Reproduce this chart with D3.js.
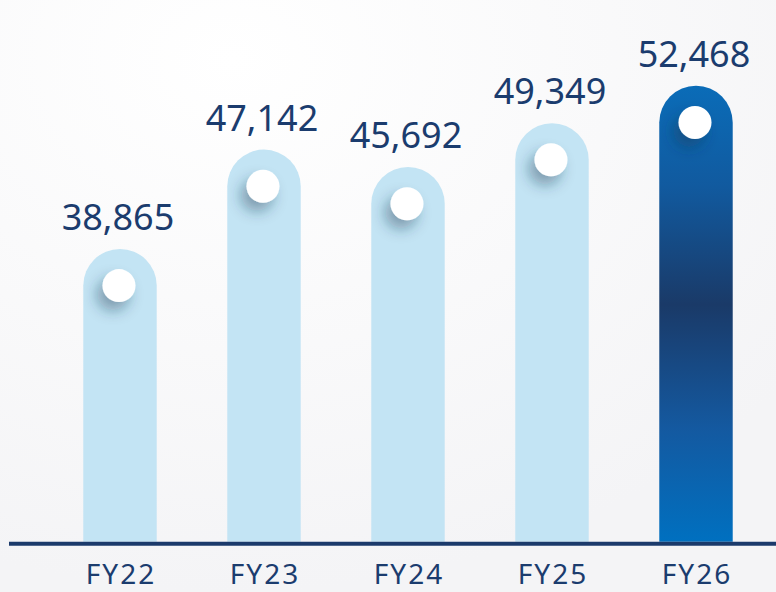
<!DOCTYPE html>
<html>
<head>
<meta charset="utf-8">
<script src="https://cdn.jsdelivr.net/npm/d3@7"></script>
<style>
  html, body { margin:0; padding:0; background:#f8f8fa; }
  svg { display:block; }
</style>
</head>
<body>
<svg id="chart" width="776" height="592"></svg>
<script>
// ---data---
var years = ["FY22", "FY23", "FY24", "FY25", "FY26"]
var values = [38865, 47142, 45692, 49349, 52468]
var highlight = "FY26"

var width = 776, height = 592
var baseY = 541.7
var svg = d3.select("#chart")

var defs = svg.append("defs")

// background wash
var bg = defs.append("radialGradient").attr("id", "bgGrad")
  .attr("cx", "30%").attr("cy", "10%").attr("r", "90%")
bg.append("stop").attr("offset", "0").attr("stop-color", "#ffffff")
bg.append("stop").attr("offset", "1").attr("stop-color", "#f4f4f6")

// dark bar gradient
var dark = defs.append("linearGradient").attr("id", "darkGrad")
  .attr("x1", 0).attr("y1", 0).attr("x2", 0).attr("y2", 1)
dark.append("stop").attr("offset", "0").attr("stop-color", "#0a6cb8")
dark.append("stop").attr("offset", "0.22").attr("stop-color", "#115a9f")
dark.append("stop").attr("offset", "0.48").attr("stop-color", "#1a3a68")
dark.append("stop").attr("offset", "0.75").attr("stop-color", "#1459a0")
dark.append("stop").attr("offset", "1").attr("stop-color", "#0070c0")

// dot shadow
var f = defs.append("filter").attr("id", "dotShadow")
  .attr("x", "-100%").attr("y", "-100%").attr("width", "300%").attr("height", "300%")
f.append("feDropShadow").attr("dx", -6).attr("dy", 9).attr("stdDeviation", 7)
  .attr("flood-color", "#1d3550").attr("flood-opacity", 0.4)

svg.append("rect").attr("width", width).attr("height", height).attr("fill", "url(#bgGrad)")

var x = d3.scaleBand()
  .domain(years)
  .range([48, 768])
  .paddingInner(0.49)
  .paddingOuter(0.245)

var y = d3.scaleLinear()
  .domain([14460, 52468])
  .range([baseY, 85.7])

var bw = x.bandwidth()
var r = bw / 2

function barPath(d, i) {
  var x0 = x(years[i]), top = y(d)
  return "M" + x0 + "," + baseY +
    "L" + x0 + "," + (top + r) +
    "A" + r + "," + r + " 0 0 1 " + (x0 + bw) + "," + (top + r) +
    "L" + (x0 + bw) + "," + baseY + "Z"
}

var g = svg.append("g")

g.selectAll("path.bar")
  .data(values)
  .join("path")
  .attr("class", "bar")
  .attr("d", barPath)
  .attr("fill", function(d, i) { return years[i] == highlight ? "url(#darkGrad)" : "#c3e4f4" })

g.selectAll("circle.dot")
  .data(values)
  .join("circle")
  .attr("class", "dot")
  .attr("cx", function(d, i) { return x(years[i]) + r - 1 })
  .attr("cy", function(d) { return y(d) + r })
  .attr("r", 16.5)
  .attr("fill", "#ffffff")
  .attr("filter", "url(#dotShadow)")

var fmt = d3.format(",")
g.selectAll("text.val")
  .data(values)
  .join("text")
  .attr("class", "val")
  .attr("x", function(d, i) { return x(years[i]) + r - 2 })
  .attr("y", function(d) { return y(d) - 19 })
  .attr("text-anchor", "middle")
  .attr("font-family", "'Noto Sans', sans-serif")
  .attr("font-size", 36)
  .attr("fill", "#1b3c6e")
  .text(fmt)

// baseline
svg.append("line")
  .attr("x1", 9).attr("x2", width)
  .attr("y1", baseY + 2).attr("y2", baseY + 2)
  .attr("stroke", "#1b3a6b").attr("stroke-width", 4)

g.selectAll("text.cat")
  .data(years)
  .join("text")
  .attr("class", "cat")
  .attr("x", function(d) { return x(d) + r + 1 })
  .attr("y", 584)
  .attr("text-anchor", "middle")
  .attr("font-family", "'Noto Sans', sans-serif")
  .attr("font-size", 28)
  .attr("letter-spacing", 2)
  .attr("fill", "#1b3c6e")
  .text(function(d) { return d })
</script>
</body>
</html>
